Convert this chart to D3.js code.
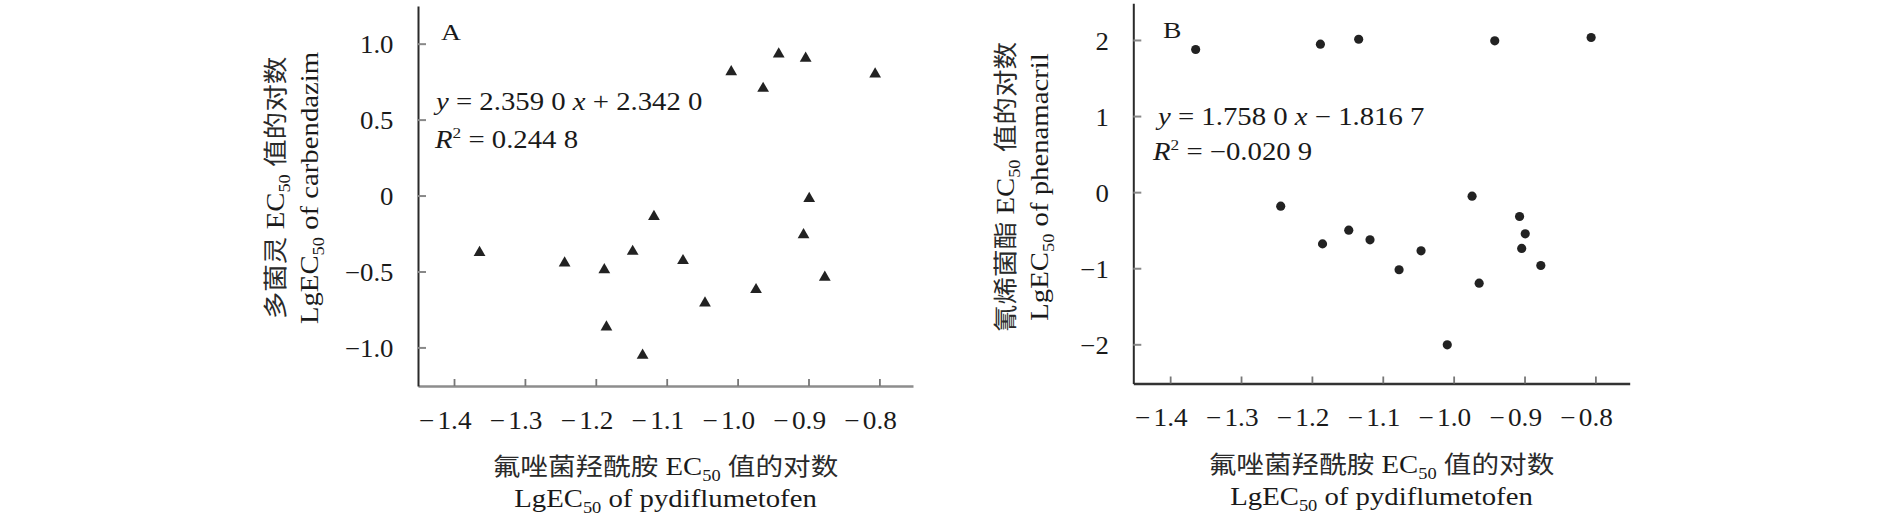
<html>
  <head>
    <meta charset="utf-8">
    <title>LgEC50 correlation</title>
    <script src="https://d3js.org/d3.v7.min.js"></script>
    <style>
      body { margin: 0; background: #fff; }
      text { font-family: "Liberation Serif", "Times New Roman", serif; fill: #1a1a1a; }
      .cjk { font-family: "Noto Sans CJK SC", sans-serif; font-size: 24px; fill: #2a2a2a; }
    </style>
  </head>
  <body>
    <svg id="chart" width="1890" height="522"></svg>
    <script>
      // x: LgEC50 of pydiflumetofen (same isolates in both panels)
      const xPyd = [-1.364, -1.244, -1.188, -1.185, -1.148, -1.134, -1.118, -1.077, -1.046,
                    -1.009, -0.974, -0.964, -0.942, -0.907, -0.904, -0.899, -0.877, -0.806];
      // y: LgEC50 of carbendazim (panel A)
      const yCarb = [-0.375, -0.445, -0.489, -0.866, -0.368, -1.052, -0.138, -0.429, -0.708,
                     0.815, -0.620, 0.705, 0.931, -0.259, 0.903, -0.020, -0.539, 0.800];
      // y: LgEC50 of phenamacril (panel B)
      const yPhen = [1.875, -0.184, 1.945, -0.680, -0.500, 2.010, -0.627, -1.020, -0.771,
                     -2.007, -0.053, -1.196, 1.989, -0.320, -0.740, -0.548, -0.964, 2.033];

      const xTicks = [-1.4, -1.3, -1.2, -1.1, -1.0, -0.9, -0.8];
      const yTicksA = [1.0, 0.5, 0, -0.5, -1.0];
      const yTicksB = [2, 1, 0, -1, -2];

      // text runs: [text, kind]  kind: "" latin, "i" italic, "sub", "sup", "cjk"
      const xTitle1 = [["氟唑菌羟酰胺", "cjk"], [" EC", ""], ["50", "sub"], [" ", ""], ["值的对数", "cjk"]];
      const xTitle2 = [["LgEC", ""], ["50", "sub"], [" of pydiflumetofen", ""]];
      const yTitleA1 = [["多菌灵", "cjk"], [" EC", ""], ["50", "sub"], [" ", ""], ["值的对数", "cjk"]];
      const yTitleA2 = [["LgEC", ""], ["50", "sub"], [" of carbendazim", ""]];
      const yTitleB1 = [["氰烯菌酯", "cjk"], [" EC", ""], ["50", "sub"], [" ", ""], ["值的对数", "cjk"]];
      const yTitleB2 = [["LgEC", ""], ["50", "sub"], [" of phenamacril", ""]];
      const eqA = [["y", "i"], [" = 2.359 0 ", ""], ["x", "i"], [" + 2.342 0", ""]];
      const r2A = [["R", "i"], ["2", "sup"], [" = 0.244 8", ""]];
      const eqB = [["y", "i"], [" = 1.758 0 ", ""], ["x", "i"], [" − 1.816 7", ""]];
      const r2B = [["R", "i"], ["2", "sup"], [" = −0.020 9", ""]];

      const SX = 1.15;   // the source type is a little wider than Liberation Serif
      const svg = d3.select("svg#chart");

      // writes a run of mixed text into a <text> element
      function runs(sel, parts) {
        let shift = 0;
        for (const [t, k] of parts) {
          const ts = sel.append("tspan").text(t);
          let target = 0;
          if (k === "cjk") ts.attr("class", "cjk");
          else if (k === "sub") { ts.style("font-size", "16px"); target = 6; }
          else if (k === "sup") { ts.style("font-size", "15px"); target = -10; }
          else if (k === "i") ts.style("font-style", "italic");
          if (target !== shift) { ts.attr("dy", target - shift); shift = target; }
        }
        return sel;
      }

      function label(parent, x, y, rot, anchor, size, parts) {
        const t = parent.append("text")
          .attr("transform", `translate(${x},${y}) rotate(${rot}) scale(${SX},1)`)
          .attr("text-anchor", anchor)
          .style("font-size", size + "px");
        return runs(t, parts);
      }

      const panels = [
        { label: "A", ys: yCarb, yTicks: yTicksA, fmt: d => d === 0 ? "0" : d3.format(".1f")(d),
          xDom: [-1.4508, -0.7526], xRange: [418, 913], yDom: [-1.254, 1.248], yRange: [386, 6],
          xAxisColor: "#8d8d8d", marker: d3.symbolTriangle, msize: 60,
          labelPos: [441, 40], eq: eqA, eqPos: [436, 110], r2: r2A, r2Pos: [435, 148],
          yt1: yTitleA1, yt2: yTitleA2, yt1x: 284, yt2x: 318, ytc: 188 },
        { label: "B", ys: yPhen, yTicks: yTicksB, fmt: d => d3.format("d")(d),
          xDom: [-1.452, -0.7516], xRange: [1133.3, 1629.7], yDom: [-2.515, 2.482], yRange: [383.5, 3.3],
          xAxisColor: "#333", marker: d3.symbolCircle, msize: 66,
          labelPos: [1163, 38], eq: eqB, eqPos: [1158, 125], r2: r2B, r2Pos: [1153, 160],
          yt1: yTitleB1, yt2: yTitleB2, yt1x: 1014, yt2x: 1048, ytc: 187 }
      ];

      for (const p of panels) {
        const x = d3.scaleLinear().domain(p.xDom).range(p.xRange);
        const y = d3.scaleLinear().domain(p.yDom).range(p.yRange);
        const g = svg.append("g");

        // x axis, ticks pointing inward, minus sign hung left of the centred number
        const xa = g.append("g")
          .attr("transform", `translate(0,${p.yRange[0]})`)
          .call(d3.axisBottom(x).tickValues(xTicks).tickSize(-7).tickSizeOuter(0)
                  .tickFormat(d => d3.format(".1f")(Math.abs(d))));
        xa.select(".domain").attr("stroke", p.xAxisColor).attr("stroke-width", 2.6);
        xa.selectAll(".tick line").attr("stroke", "#777").attr("stroke-width", 1.8);
        xa.selectAll(".tick text")
          .attr("y", 0).attr("dy", 0)
          .attr("transform", "translate(0,42.5) scale(1.07,1)")
          .style("font-size", "25.5px").style("font-family", "Liberation Serif").attr("fill", "#1a1a1a")
          .each(function () {
            const w = this.getComputedTextLength();
            d3.select(this.parentNode).append("text")
              .attr("transform", "translate(0,42.5) scale(1.07,1)")
              .attr("x", -w / 2 - 3)
              .attr("text-anchor", "end")
              .style("font-size", "25.5px")
              .text("−");
          });

        // y axis
        const ya = g.append("g")
          .attr("transform", `translate(${p.xRange[0]},0)`)
          .call(d3.axisLeft(y).tickValues(p.yTicks).tickSize(-8).tickPadding(24.5).tickSizeOuter(0)
                  .tickFormat(p.fmt));
        ya.select(".domain").attr("stroke", "#2a2a2a").attr("stroke-width", 2);
        ya.selectAll(".tick line").attr("stroke", "#888").attr("stroke-width", 2);
        ya.selectAll(".tick text")
          .attr("x", 0).attr("dy", "0.36em")
          .attr("transform", "translate(-24.5,0) scale(1.05,1)")
          .style("font-size", "25.5px").style("font-family", "Liberation Serif").attr("fill", "#1a1a1a");

        // points
        g.selectAll("path.pt").data(p.ys.map((v, i) => [xPyd[i], v]))
          .join("path")
          .attr("class", "pt")
          .attr("transform", d => `translate(${x(d[0])},${y(d[1])})`)
          .attr("d", d3.symbol().type(p.marker).size(p.msize))
          .attr("fill", "#222");

        // panel label and fit equation
        label(g, p.labelPos[0], p.labelPos[1], 0, "start", 24, [[p.label, ""]]);
        label(g, p.eqPos[0], p.eqPos[1], 0, "start", 25, p.eq);
        label(g, p.r2Pos[0], p.r2Pos[1], 0, "start", 25, p.r2);

        // x title
        const xc = (p.xRange[0] + p.xRange[1]) / 2;
        label(g, xc, p.yRange[0] + 89, 0, "middle", 25, xTitle1);
        label(g, xc, p.yRange[0] + 121, 0, "middle", 25, xTitle2);

        // y title, rotated
        label(g, p.yt1x, p.ytc, -90, "middle", 25, p.yt1);
        label(g, p.yt2x, p.ytc, -90, "middle", 25, p.yt2);
      }
    </script>
  </body>
</html>
